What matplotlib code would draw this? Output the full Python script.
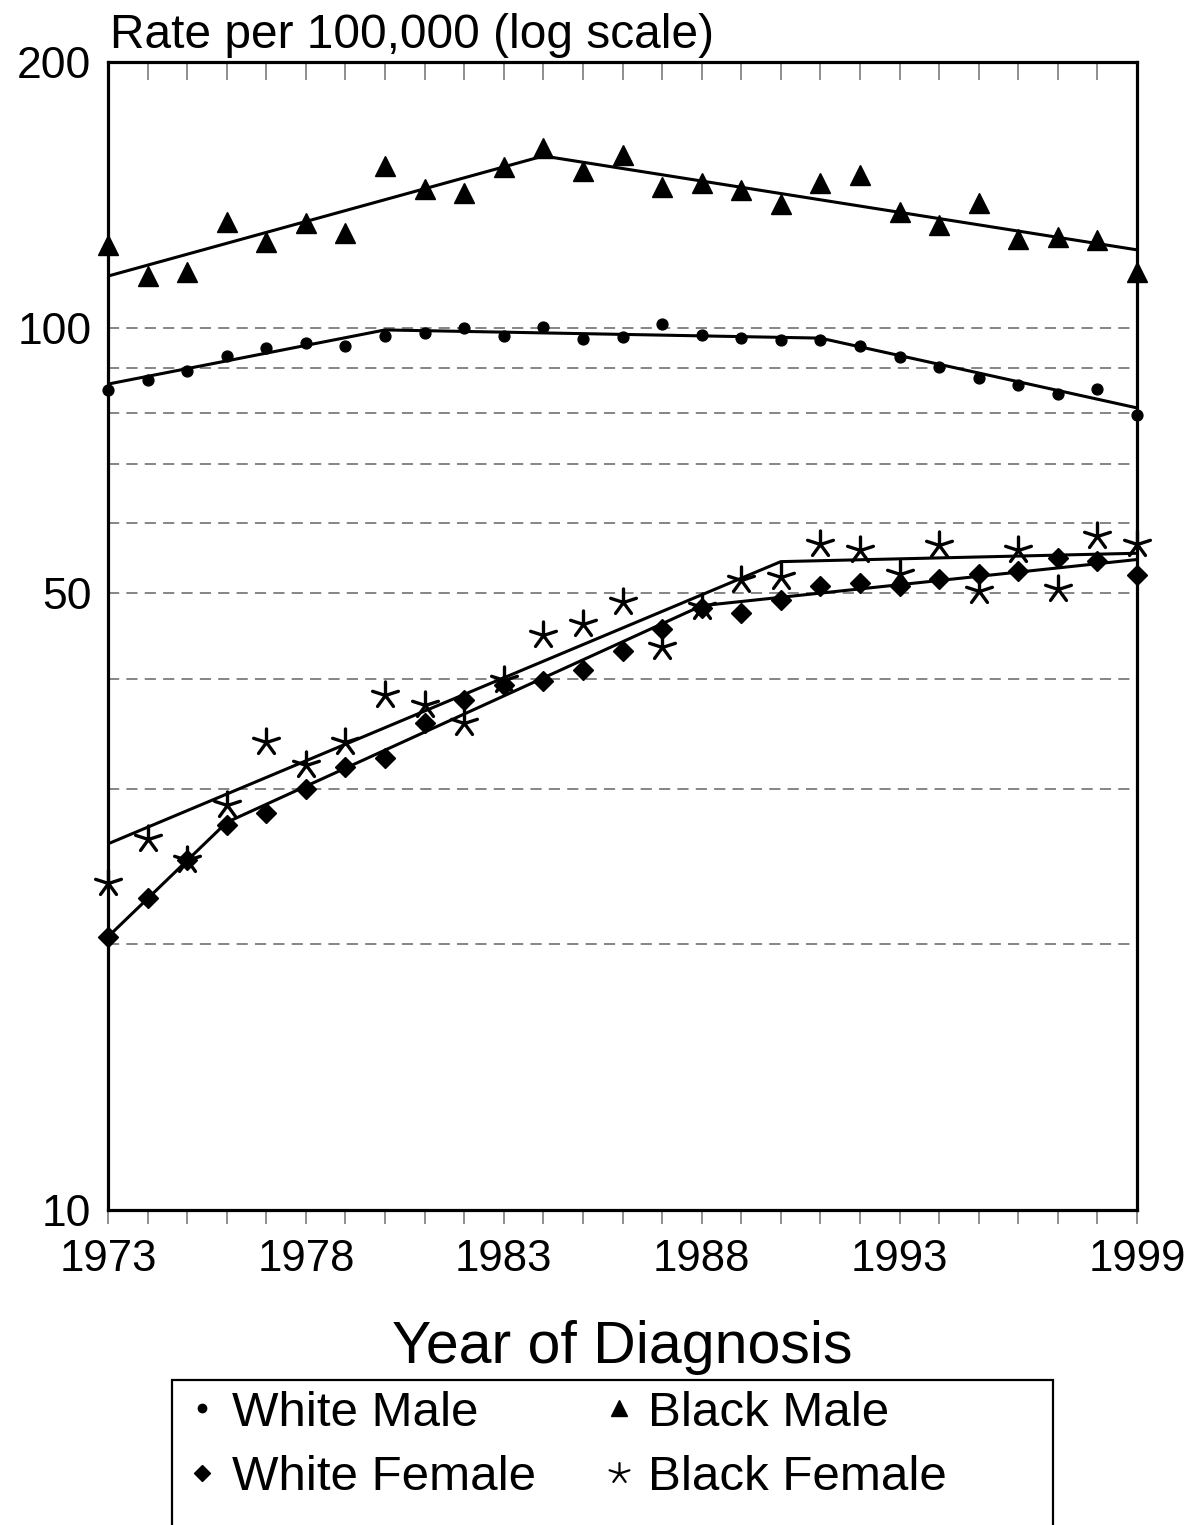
import numpy as np
import matplotlib
matplotlib.use("Agg")
import matplotlib.pyplot as plt
from matplotlib.path import Path
from matplotlib.markers import MarkerStyle
from matplotlib.lines import Line2D
from matplotlib.patches import Rectangle

plt.rcParams['font.family'] = ['Liberation Sans', 'DejaVu Sans']

# data
years = list(range(1973, 2000))

white_male = [85.0, 87.2, 89.3, 92.9, 94.8, 96.1, 95.3, 97.8, 98.6, 99.9, 97.8, 100.2, 97.1,
              97.6, 101.0, 98.1, 97.3, 96.8, 96.8, 95.3, 92.6, 90.2, 87.7, 86.1, 84.1, 85.2, 79.6]
black_male = [124.1, 114.4, 115.6, 131.9, 125.0, 131.4, 128.0, 152.5, 143.6, 142.1, 152.1, 159.8,
              150.5, 156.9, 144.3, 145.8, 143.2, 138.1, 145.8, 148.9, 135.2, 130.8, 138.4, 126.0,
              126.6, 125.7, 115.6]
white_female = [20.4, 22.6, 24.9, 27.3, 28.2, 30.0, 31.8, 32.5, 35.6, 37.8, 39.4, 39.8, 40.9, 43.0,
                45.6, 48.1, 47.5, 49.1, 50.9, 51.3, 50.9, 51.9, 52.6, 53.0, 54.8, 54.4, 52.4]
black_female = [23.5, 26.3, 24.9, 28.8, 33.9, 31.9, 33.9, 38.3, 37.4, 35.6, 39.9, 44.8, 46.1, 48.9,
                43.5, 48.3, 51.8, 52.1, 56.9, 56.0, 52.6, 56.7, 50.3, 56.0, 50.6, 58.0, 56.9]

# joinpoint trend segments
wm_trend_years = [1973, 1980, 1991, 1999]
wm_trend = [86.3, 99.4, 97.3, 81.1]
bm_trend_years = [1973, 1984, 1999]
bm_trend = [114.4, 156.5, 122.5]
wf_trend_years = [1973, 1976, 1988, 1999]
wf_trend = [20.4, 27.5, 48.4, 54.6]
bf_trend_years = [1973, 1990, 1999]
bf_trend = [26.0, 54.3, 55.5]

grid_values = [20, 30, 40, 50, 60, 70, 80, 90, 100]
ytick_values = [10, 50, 100, 200]
xtick_labels = [1973, 1978, 1983, 1988, 1993, 1999]

labels = ['White Male', 'White Female', 'Black Male', 'Black Female']

# five-armed asterisk marker (open strokes, round ends)
ang = np.deg2rad([90, 18, 306, 234, 162])
verts, codes = [], []
for a in ang:
    verts += [(0, 0), (np.cos(a), np.sin(a))]
    codes += [Path.MOVETO, Path.LINETO]
asterisk = MarkerStyle(Path(verts, codes), capstyle='round')

W, H = 1192, 1525
fig = plt.figure(figsize=(W / 100, H / 100), dpi=100)
ax = fig.add_axes([108 / W, 1 - 1210 / H, 1029 / W, 1148 / H])

ax.set_yscale('log')
ax.set_xlim(1973, 1999)
ax.set_ylim(10, 200)

for g in grid_values:
    ax.axhline(g, color='#6a6a6a', lw=1.15, ls=(0, (7, 4.5)), zorder=1)

lw = 2.2
ax.plot(wm_trend_years, wm_trend, color='black', lw=lw, zorder=3)
ax.plot(bm_trend_years, bm_trend, color='black', lw=lw, zorder=3)
ax.plot(wf_trend_years, wf_trend, color='black', lw=lw, zorder=3)
ax.plot(bf_trend_years, bf_trend, color='black', lw=lw, zorder=3)

ax.plot(years, white_male, ls='none', marker='o', ms=7.8, color='black', zorder=4, clip_on=False)
ax.plot(years, black_male, ls='none', marker='^', ms=14.5, color='black', zorder=4, clip_on=False)
ax.plot(years, white_female, ls='none', marker='D', ms=10, color='black', zorder=4, clip_on=False)
ax.plot(years, black_female, ls='none', marker=asterisk, ms=19.5, mfc='none', mec='black',
        mew=2.4, zorder=4, clip_on=False)

# axes cosmetics
for s in ax.spines.values():
    s.set_linewidth(2.3)
    s.set_zorder(5)

ax.set_yticks(ytick_values)
ax.set_yticklabels([str(v) for v in ytick_values])
ax.yaxis.set_minor_locator(matplotlib.ticker.NullLocator())
ax.tick_params(axis='y', which='both', length=0, pad=12, labelsize=32)

ax.set_xticks(years)
ax.set_xticklabels([str(y) if y in xtick_labels else '' for y in years])
ax.tick_params(axis='x', which='major', direction='out', length=10, width=1.1,
               color='#707070', pad=11, labelsize=31.5)
ax2 = ax.secondary_xaxis('top')
ax2.set_xticks(years)
ax2.tick_params(axis='x', direction='in', length=13, width=1.1, color='#707070',
                labeltop=False)
ax2.spines['top'].set_visible(False)

fig.text(110 / W, 1 - 48 / H, 'Rate per 100,000 (log scale)', fontsize=34.5,
         ha='left', va='baseline')
fig.text(622 / W, 1 - 1363 / H, 'Year of Diagnosis', fontsize=42.5,
         ha='center', va='baseline')

# legend
handles = [
    Line2D([], [], ls='none', marker='o', ms=6, color='black'),
    Line2D([], [], ls='none', marker='D', ms=8, color='black'),
    Line2D([], [], ls='none', marker='^', ms=11, color='black'),
    Line2D([], [], ls='none', marker=asterisk, ms=15, mfc='none', mec='black', mew=1.6),
]
fig.legend(handles, labels, ncol=2, loc='upper left',
           bbox_to_anchor=(153 / W, 1 - 1356 / H), frameon=False, fontsize=35.5,
           handlelength=0.6, handletextpad=0.3, columnspacing=1.38, labelspacing=0.4,
           borderpad=0.2)
fig.patches.append(Rectangle((172 / W, -0.02), (1053 - 172) / W, 0.02 + 1 - 1380 / H,
                             transform=fig.transFigure, fill=False, ec='black', lw=1.6))

fig.savefig('out.png', dpi=100)
